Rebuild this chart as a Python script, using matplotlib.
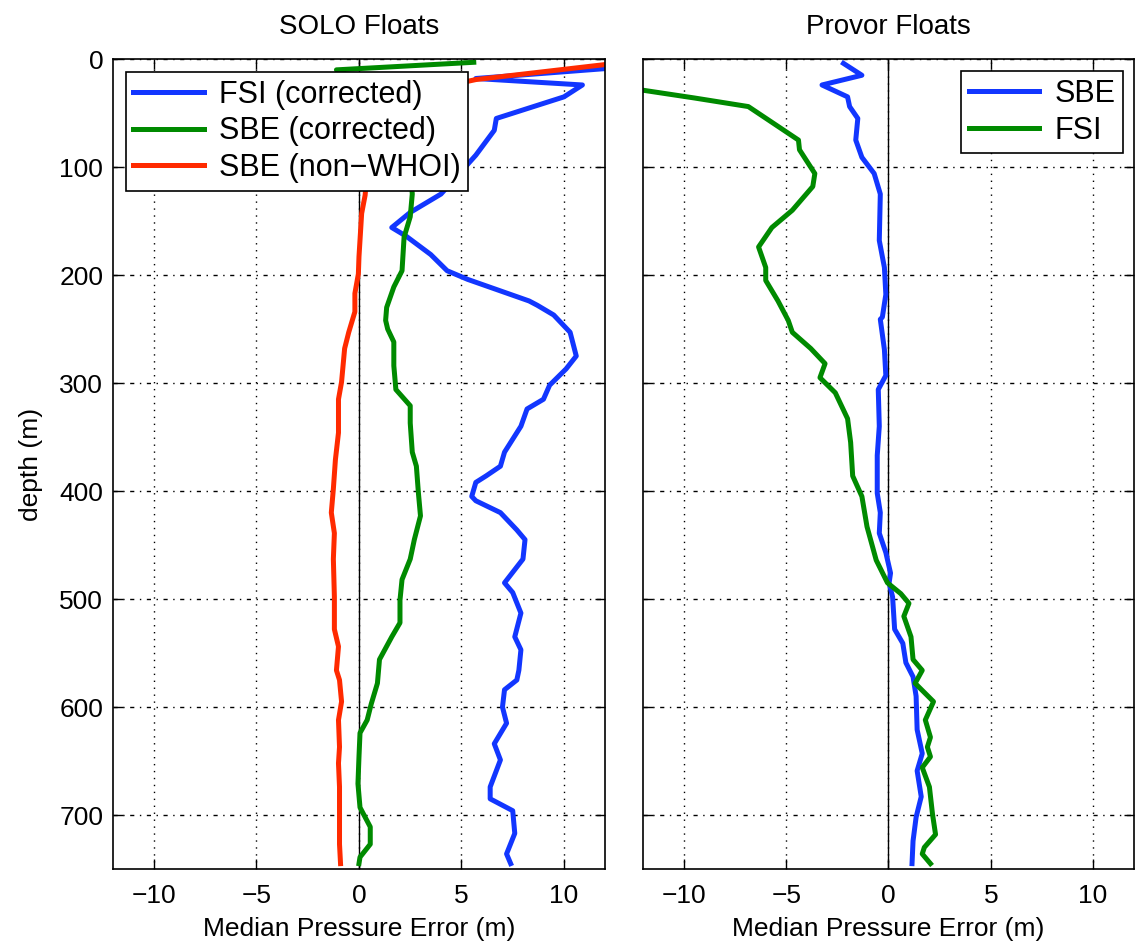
import matplotlib
matplotlib.use("Agg")
import matplotlib.pyplot as plt
import numpy as np

plt.rcParams["font.family"] = ["Liberation Sans", "DejaVu Sans"]

# SOLO floats, left panel (depth m, median pressure error m)
solo_fsi_depth = [8, 18, 24, 35, 55, 66, 89, 125, 142, 156, 164, 181, 196, 204, 224, 228, 237,
                  253, 275, 287, 302, 315, 324, 340, 352, 364, 377, 386, 392, 405, 409, 420,
                  436, 445, 463, 485, 494, 513, 535, 547, 566, 575, 584, 600, 615, 634, 649,
                  674, 685, 696, 717, 736, 745]
solo_fsi_err = [12.6, 5.7, 10.9, 10.0, 6.7, 6.6, 5.7, 4.0, 2.5, 1.6, 2.3, 3.5, 4.3, 5.3, 8.3, 8.7,
                9.5, 10.3, 10.6, 10.1, 9.3, 9.0, 8.2, 7.9, 7.5, 7.1, 6.9, 6.2, 5.7, 5.5, 5.7, 6.9,
                7.7, 8.1, 8.0, 7.1, 7.5, 7.9, 7.6, 7.9, 7.8, 7.7, 7.1, 7.0, 7.2, 6.6, 6.9, 6.4,
                6.4, 7.5, 7.6, 7.2, 7.4]

solo_sbe_depth = [3, 10, 30, 60, 100, 125, 146, 165, 196, 211, 230, 242, 250, 262, 284, 306,
                  321, 337, 364, 377, 402, 423, 445, 463, 482, 501, 522, 535, 556, 578, 597,
                  612, 624, 646, 671, 693, 711, 727, 739, 745]
solo_sbe_err = [5.6, -1.1, 1.0, 2.0, 2.5, 2.6, 2.5, 2.2, 2.1, 1.7, 1.35, 1.3, 1.4, 1.7, 1.7, 1.8,
                2.5, 2.5, 2.6, 2.8, 2.9, 3.0, 2.7, 2.5, 2.1, 2.0, 2.0, 1.6, 1.0, 0.9, 0.6, 0.4,
                0.05, 0.0, -0.05, 0.05, 0.55, 0.55, 0.05, 0.0]

solo_nonwhoi_depth = [4, 19, 30, 50, 80, 126, 143, 183, 199, 217, 234, 253, 268, 299, 315, 346,
                      371, 398, 420, 439, 463, 498, 528, 544, 566, 575, 595, 612, 637, 652, 674,
                      699, 727, 745]
solo_nonwhoi_err = [12.5, 5.7, 3.0, 1.2, 0.5, 0.3, 0.13, 0.0, -0.03, -0.2, -0.2, -0.5, -0.7,
                    -0.85, -1.0, -1.0, -1.15, -1.25, -1.35, -1.2, -1.25, -1.2, -1.2, -1.0, -1.1,
                    -0.95, -0.85, -1.0, -0.95, -1.0, -0.95, -0.95, -0.95, -0.9]

# Provor floats, right panel
provor_sbe_depth = [4, 15, 24, 35, 44, 55, 75, 91, 106, 125, 168, 193, 218, 239, 241, 269, 293,
                    306, 340, 367, 402, 420, 439, 457, 476, 485, 498, 528, 541, 559, 572, 590,
                    621, 643, 659, 683, 702, 724, 745]
provor_sbe_err = [-2.2, -1.3, -3.25, -2.0, -1.9, -1.5, -1.6, -1.3, -0.7, -0.4, -0.45, -0.2,
                  -0.13, -0.3, -0.4, -0.2, -0.13, -0.5, -0.45, -0.55, -0.55, -0.4, -0.45, -0.13,
                  0.1, 0.03, 0.2, 0.3, 0.7, 0.85, 1.2, 1.35, 1.4, 1.65, 1.4, 1.6, 1.35, 1.2, 1.15]

provor_fsi_depth = [26, 36, 44, 56, 75, 84, 106, 118, 140, 156, 174, 193, 205, 224, 242, 253,
                    268, 282, 295, 309, 333, 355, 386, 405, 433, 464, 485, 495, 504, 516, 535,
                    556, 566, 578, 595, 612, 628, 637, 646, 656, 674, 699, 718, 730, 736, 745]
provor_fsi_err = [-13.0, -9.5, -6.85, -5.9, -4.4, -4.35, -3.6, -3.7, -4.7, -5.7, -6.35, -6.0,
                  -6.0, -5.4, -4.9, -4.7, -3.8, -3.1, -3.35, -2.6, -2.0, -1.85, -1.75, -1.3,
                  -1.05, -0.6, -0.05, 0.6, 1.0, 0.75, 1.1, 1.2, 1.65, 1.3, 2.2, 1.8, 2.05, 1.9,
                  2.05, 1.65, 2.0, 2.15, 2.3, 1.75, 1.65, 2.05]

BLUE = "#1236ff"
GREEN = "#008a00"
RED = "#ff2a00"

fig = plt.figure(figsize=(11.38, 9.51), dpi=100)
ax1 = fig.add_axes([0.0993, 0.0862, 0.4323, 0.8517])
ax2 = fig.add_axes([0.5650, 0.0862, 0.4315, 0.8517])


def style(ax, title):
    ax.set_xlim(-12, 12)
    ax.set_ylim(750, 0)
    ax.set_xticks([-10, -5, 0, 5, 10])
    ax.set_xticklabels(["\u221210", "\u22125", "0", "5", "10"])
    ax.set_yticks(range(0, 800, 100))
    ax.axvline(0, color="black", lw=1.0, zorder=1)
    ax.xaxis.grid(True, color="black", linestyle=(0, (1, 4)), lw=1.0)
    ax.yaxis.grid(True, color="black", linestyle=(0, (3, 4, 1, 4)), lw=1.0)
    ax.set_axisbelow(True)
    ax.tick_params(direction="in", length=7, width=1, top=True, right=True, labelsize=19)
    ax.tick_params(axis="x", pad=11)
    ax.tick_params(axis="y", pad=7)
    for s in ax.spines.values():
        s.set_linewidth(1.2)
    ax.set_xlabel("Median Pressure Error (m)", fontsize=19, labelpad=6)
    ax.set_title(title, fontsize=20, pad=18)


def add_legend(ax, loc, anchor):
    leg = ax.legend(loc=loc, bbox_to_anchor=anchor, fontsize=22, fancybox=False,
                    edgecolor="black", framealpha=1, handlelength=2.3, borderaxespad=0,
                    labelspacing=0.22, borderpad=0.25, handletextpad=0.5)
    leg.get_frame().set_linewidth(1.2)


lw = 3.6
ax1.plot(solo_fsi_err, solo_fsi_depth, color=BLUE, lw=lw, label="FSI (corrected)")
ax1.plot(solo_sbe_err, solo_sbe_depth, color=GREEN, lw=lw, label="SBE (corrected)")
ax1.plot(solo_nonwhoi_err, solo_nonwhoi_depth, color=RED, lw=lw, label="SBE (non\u2212WHOI)")
style(ax1, "SOLO Floats")
ax1.set_ylabel("depth (m)", fontsize=19, labelpad=12)
add_legend(ax1, "upper left", (0.026, 0.984))

ax2.plot(provor_sbe_err, provor_sbe_depth, color=BLUE, lw=lw, label="SBE")
ax2.plot(provor_fsi_err, provor_fsi_depth, color=GREEN, lw=lw, label="FSI")
style(ax2, "Provor Floats")
ax2.set_yticklabels([])
add_legend(ax2, "upper right", (0.978, 0.985))

fig.savefig("out.png", dpi=100)
